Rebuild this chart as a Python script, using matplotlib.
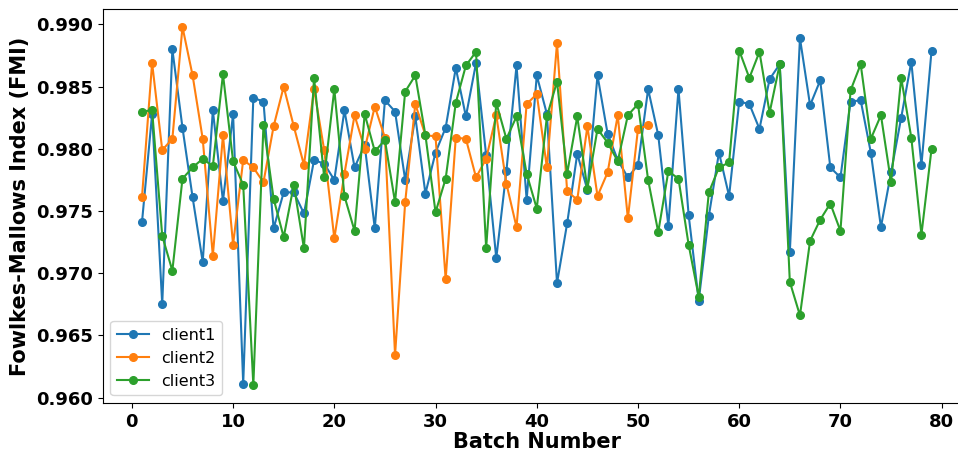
import numpy as np
import matplotlib
matplotlib.use("Agg")
import matplotlib.pyplot as plt

# FMI per batch
client1 = [0.9741, 0.9828, 0.9675, 0.9880, 0.9817, 0.9761, 0.9709, 0.9831, 0.9758, 0.9828,
           0.9611, 0.9841, 0.9838, 0.9736, 0.9765, 0.9765, 0.9748, 0.9791, 0.9788, 0.9775,
           0.9831, 0.9785, 0.9803, 0.9736, 0.9839, 0.9830, 0.9775, 0.9826, 0.9764, 0.9797,
           0.9817, 0.9865, 0.9826, 0.9869, 0.9795, 0.9712, 0.9782, 0.9867, 0.9759, 0.9859,
           0.9828, 0.9692, 0.9740, 0.9796, 0.9767, 0.9859, 0.9812, 0.9791, 0.9777, 0.9787,
           0.9848, 0.9811, 0.9738, 0.9848, 0.9747, 0.9678, 0.9746, 0.9797, 0.9762, 0.9838,
           0.9836, 0.9816, 0.9856, 0.9868, 0.9717, 0.9889, 0.9835, 0.9855, 0.9785, 0.9777,
           0.9838, 0.9839, 0.9797, 0.9737, 0.9781, 0.9825, 0.9870, 0.9787, 0.9879]

client2 = [0.9761, 0.9869, 0.9799, 0.9808, 0.9898, 0.9859, 0.9808, 0.9714, 0.9811, 0.9723,
           0.9791, 0.9785, 0.9773, 0.9818, 0.9850, 0.9818, 0.9787, 0.9848, 0.9799, 0.9728,
           0.9780, 0.9827, 0.9800, 0.9834, 0.9809, 0.9634, 0.9757, 0.9836, 0.9811, 0.9810,
           0.9695, 0.9809, 0.9808, 0.9777, 0.9792, 0.9827, 0.9772, 0.9737, 0.9836, 0.9844,
           0.9785, 0.9885, 0.9766, 0.9759, 0.9818, 0.9762, 0.9781, 0.9827, 0.9744, 0.9816,
           0.9819]

client3 = [0.9830, 0.9831, 0.9730, 0.9702, 0.9776, 0.9785, 0.9792, 0.9786, 0.9860, 0.9790,
           0.9771, 0.9610, 0.9819, 0.9760, 0.9729, 0.9771, 0.9720, 0.9857, 0.9777, 0.9848,
           0.9762, 0.9734, 0.9828, 0.9798, 0.9807, 0.9757, 0.9846, 0.9859, 0.9811, 0.9749,
           0.9776, 0.9837, 0.9867, 0.9878, 0.9720, 0.9837, 0.9808, 0.9826, 0.9780, 0.9752,
           0.9826, 0.9854, 0.9780, 0.9826, 0.9768, 0.9816, 0.9805, 0.9790, 0.9827, 0.9836,
           0.9775, 0.9733, 0.9782, 0.9776, 0.9723, 0.9681, 0.9765, 0.9785, 0.9789, 0.9879,
           0.9857, 0.9878, 0.9829, 0.9868, 0.9693, 0.9666, 0.9726, 0.9743, 0.9756, 0.9734,
           0.9847, 0.9868, 0.9808, 0.9827, 0.9773, 0.9857, 0.9809, 0.9731, 0.9800]

series = {"client1": client1, "client2": client2, "client3": client3}

fig = plt.figure(figsize=(9.58, 4.54), dpi=100)
# axes run past the right edge in the reference (cropped figure)
ax = fig.add_axes([0.107, 0.1123, 0.9066, 0.8678])

for name, vals in series.items():
    batches = np.arange(1, len(vals) + 1)
    ax.plot(batches, vals, marker="o", markersize=5.5, linewidth=1.5, label=name)

ax.set_xlabel("Batch Number", fontsize=15, fontweight="bold", labelpad=1)
ax.set_ylabel("Fowlkes-Mallows Index (FMI)", fontsize=15, fontweight="bold")
ax.set_xticks(range(0, 81, 10))
ax.set_yticks(np.arange(0.960, 0.9901, 0.005))
ax.yaxis.set_major_formatter(matplotlib.ticker.FormatStrFormatter("%.3f"))
for lbl in ax.get_xticklabels() + ax.get_yticklabels():
    lbl.set_fontsize(13)
    lbl.set_fontweight("bold")
ax.legend(loc="lower left", fontsize=11.5)

fig.savefig("out.png", dpi=100)
